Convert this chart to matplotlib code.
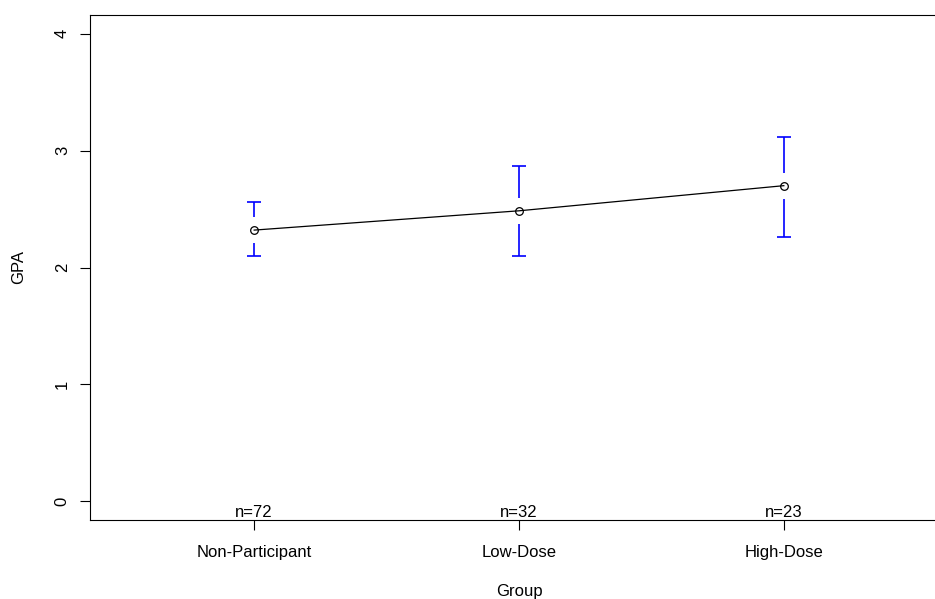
import numpy as np
import matplotlib
matplotlib.use("Agg")
import matplotlib.pyplot as plt

plt.rcParams['font.family'] = ['Liberation Sans', 'DejaVu Sans']

# group means and confidence limits
groups = ["Non-Participant", "Low-Dose", "High-Dose"]
n_obs = [72, 32, 23]
gpa_mean = [2.32, 2.485, 2.70]
ci_lower = [2.10, 2.10, 2.26]
ci_upper = [2.56, 2.87, 3.12]
y_ticks = [0, 1, 2, 3, 4]

x = np.arange(1, len(groups) + 1)

fig = plt.figure(figsize=(9.35, 5.99), dpi=100)
# right edge of the plot region lies just past the image, as in the original
ax = fig.add_axes([90 / 935, 79 / 599, 858 / 935, 505 / 599])
ax.set_xlim(0.38, 3.62)
ax.set_ylim(-0.16, 4.16)

# gap around each mean, in data units (~13 px)
gap = 13 / 117.5
ax.vlines(x, np.array(gpa_mean) + gap, ci_upper, color='blue', lw=1.2)
ax.vlines(x, ci_lower, np.array(gpa_mean) - gap, color='blue', lw=1.2)
ax.plot(x, ci_upper, ls='none', marker='_', ms=10.5, mew=1.2, color='blue')
ax.plot(x, ci_lower, ls='none', marker='_', ms=10.5, mew=1.2, color='blue')

# means joined by a line
ax.plot(x, gpa_mean, color='black', lw=0.9, marker='o', ms=5.5,
        mfc='none', mec='black', mew=0.9)

for xi, n in zip(x, n_obs):
    ax.text(xi, -0.16, f"n={n}", ha='center', va='bottom', fontsize=12)

ax.set_xticks(x)
ax.set_xticklabels(groups)
ax.set_yticks(y_ticks)
ax.set_yticklabels([str(t) for t in y_ticks], rotation=90, va='center')
ax.tick_params(axis='both', direction='out', length=7, width=0.8,
               labelsize=12)
ax.tick_params(axis='x', pad=11)
ax.tick_params(axis='y', pad=7.5)

ax.set_xlabel("Group", fontsize=12, labelpad=17.5)
ax.set_ylabel("GPA", fontsize=12, labelpad=21)

for s in ax.spines.values():
    s.set_linewidth(0.8)

fig.savefig("out.png", dpi=100)
